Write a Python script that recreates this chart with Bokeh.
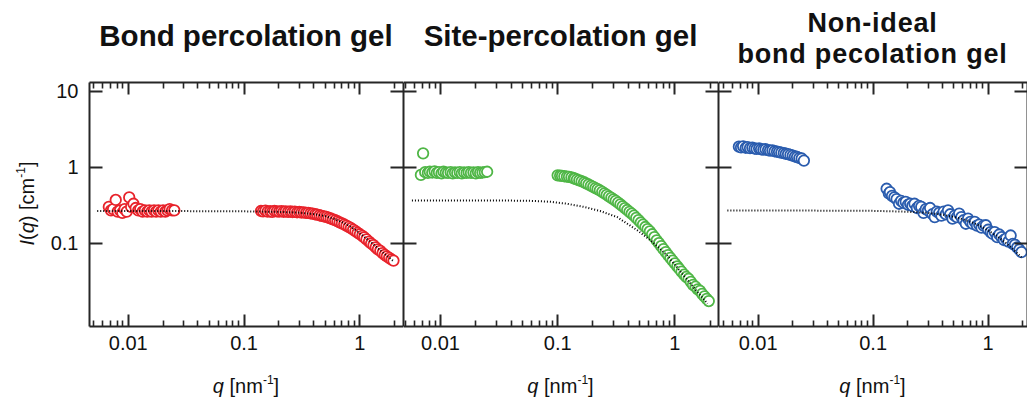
from bokeh.plotting import figure
from bokeh.models import Range1d, FixedTicker, LogAxis, CustomJSTickFormatter, Div
from bokeh.layouts import row, column
from bokeh.embed import file_html
from bokeh.resources import INLINE

# ---------------- data ----------------
q_low = [0.0068, 0.0071, 0.0074, 0.0078, 0.0081, 0.0085, 0.0089, 0.0093, 0.0097, 0.0102,
         0.0106, 0.0111, 0.0116, 0.0122, 0.0127, 0.0133, 0.0139, 0.0146, 0.0152, 0.0159,
         0.0167, 0.0174, 0.0182, 0.0191, 0.0200, 0.0209, 0.0218, 0.0228, 0.0239, 0.0250]

q_high = [0.140, 0.146, 0.153, 0.160, 0.168, 0.175, 0.183, 0.192, 0.201, 0.210,
          0.219, 0.229, 0.240, 0.251, 0.262, 0.274, 0.287, 0.300, 0.313, 0.328,
          0.343, 0.358, 0.375, 0.392, 0.410, 0.428, 0.448, 0.468, 0.490, 0.512,
          0.535, 0.560, 0.585, 0.612, 0.640, 0.669, 0.700, 0.732, 0.765, 0.800,
          0.837, 0.875, 0.915, 0.956, 1.00, 1.05, 1.09, 1.14, 1.20, 1.25,
          1.31, 1.37, 1.43, 1.50, 1.57, 1.64, 1.71, 1.79, 1.87, 1.95]

q_high_green = [0.100, 0.105, 0.109, 0.114, 0.120, 0.125, 0.131, 0.137] + q_high
q_high_blue = [0.131, 0.137] + q_high

# Bond percolation gel (red)
bond_low = [0.30, 0.27, 0.28, 0.37, 0.26, 0.27, 0.25, 0.28, 0.26, 0.40,
            0.30, 0.33, 0.29, 0.27, 0.28, 0.26, 0.27, 0.26, 0.27, 0.26,
            0.27, 0.26, 0.27, 0.26, 0.27, 0.26, 0.27, 0.28, 0.27, 0.27]
bond_high = [0.265, 0.262, 0.268, 0.260, 0.263, 0.258, 0.265, 0.262, 0.260, 0.264,
             0.259, 0.262, 0.258, 0.261, 0.257, 0.259, 0.255, 0.257, 0.253, 0.254,
             0.250, 0.250, 0.246, 0.244, 0.240, 0.237, 0.233, 0.229, 0.225, 0.221,
             0.216, 0.211, 0.206, 0.200, 0.194, 0.188, 0.182, 0.176, 0.170, 0.164,
             0.158, 0.151, 0.144, 0.137, 0.131, 0.125, 0.119, 0.112, 0.105, 0.099,
             0.094, 0.088, 0.083, 0.079, 0.074, 0.070, 0.067, 0.064, 0.061, 0.059]
bond_fit_q = [0.0054, 0.01, 0.03, 0.1, 0.2, 0.3, 0.4, 0.5, 0.6, 0.7, 0.8, 0.9, 1.0,
              1.2, 1.4, 1.6, 1.8, 1.95]
bond_fit = [0.264, 0.264, 0.264, 0.262, 0.258, 0.252, 0.241, 0.227, 0.208, 0.189, 0.170,
            0.152, 0.134, 0.108, 0.088, 0.074, 0.064, 0.058]

# Site-percolation gel (green)
site_low = [0.79, 1.52, 0.86, 0.84, 0.87, 0.85, 0.88, 0.84, 0.86, 0.83,
            0.87, 0.85, 0.84, 0.86, 0.83, 0.85, 0.84, 0.86, 0.83, 0.85,
            0.84, 0.86, 0.84, 0.85, 0.83, 0.86, 0.84, 0.85, 0.86, 0.87]
site_high = [0.780, 0.772, 0.766, 0.759, 0.751, 0.745, 0.733, 0.714,
             0.705, 0.688, 0.669, 0.652, 0.633, 0.613, 0.591, 0.569, 0.549, 0.530,
             0.513, 0.495, 0.473, 0.452, 0.433, 0.413, 0.394, 0.376, 0.360, 0.342,
             0.323, 0.306, 0.289, 0.273, 0.258, 0.244, 0.230, 0.215, 0.201, 0.187,
             0.175, 0.163, 0.153, 0.143, 0.131, 0.120, 0.109, 0.0998, 0.0912, 0.0834,
             0.0761, 0.0697, 0.0640, 0.0589, 0.0542, 0.0494, 0.0460, 0.0423, 0.0385, 0.0360,
             0.0340, 0.0309, 0.0282, 0.0267, 0.0247, 0.0236, 0.0215, 0.0199, 0.0185, 0.0173]
site_fit_q = [0.0057, 0.03, 0.06, 0.087, 0.12, 0.167, 0.23, 0.322, 0.4, 0.48, 0.62,
              0.86, 1.2, 1.5, 1.9]
site_fit = [0.365, 0.365, 0.36, 0.35, 0.33, 0.30, 0.265, 0.22, 0.177, 0.147, 0.109,
            0.069, 0.037, 0.0245, 0.016]

# Non-ideal bond percolation gel (blue)
nonideal_low = [1.86, 1.82, 1.88, 1.80, 1.84, 1.78, 1.80, 1.76, 1.74, 1.76,
                1.72, 1.70, 1.72, 1.68, 1.65, 1.66, 1.62, 1.60, 1.58, 1.55,
                1.53, 1.50, 1.48, 1.45, 1.42, 1.38, 1.36, 1.32, 1.30, 1.22]
nonideal_high = [0.52, 0.45,
                 0.47, 0.42, 0.40, 0.38, 0.33, 0.36, 0.34, 0.35, 0.32, 0.33,
                 0.31, 0.33, 0.29, 0.31, 0.30, 0.25, 0.28, 0.27, 0.29, 0.24,
                 0.22, 0.26, 0.25, 0.23, 0.26, 0.24, 0.27, 0.24, 0.21, 0.23,
                 0.22, 0.245, 0.22, 0.20, 0.18, 0.21, 0.19, 0.18, 0.19, 0.17,
                 0.175, 0.16, 0.17, 0.172, 0.15, 0.14, 0.133, 0.14, 0.12, 0.13,
                 0.12, 0.11, 0.115, 0.105, 0.126, 0.098, 0.095, 0.088, 0.082, 0.076]
nonideal_fit_q = [0.0054, 0.03, 0.1, 0.2, 0.3, 0.4, 0.5, 0.6, 0.7, 0.8, 0.9, 1.0,
                  1.2, 1.4, 1.6, 1.8, 1.95]
nonideal_fit = [0.268, 0.268, 0.266, 0.259, 0.250, 0.237, 0.222, 0.207, 0.191, 0.176,
                0.161, 0.147, 0.123, 0.103, 0.087, 0.073, 0.065]

titles = [["Bond percolation gel"], ["Site-percolation gel"],
          ["Non-ideal", "bond pecolation gel"]]
colors = ["#e8232b", "#4fb646", "#2a5cae"]

x_ticks = [0.01, 0.1, 1]
x_tick_labels = ["0.01", "0.1", "1"]
x_minor_ticks = [0.005, 0.006, 0.007, 0.008, 0.009, 0.02, 0.03, 0.04, 0.05, 0.06,
                 0.07, 0.08, 0.09, 0.2, 0.3, 0.4, 0.5, 0.6, 0.7, 0.8, 0.9, 2]
y_ticks = [0.1, 1, 10]
y_tick_labels = ["0.1", "1", "10"]

x_label_html = '<i>q</i>&nbsp;[nm<span style="font-size:12px;position:relative;top:-9px;">-1</span>]'
y_label_html = '<i>I</i>(<i>q</i>)&nbsp;[cm<span style="font-size:12px;position:relative;top:-9px;">-1</span>]'

# ---------------- layout / style ----------------
FONT = "Liberation Sans"
FRAME = "#262626"
TXT = "#111111"
TITLE_H = 72        # title strip height (canvas y 0..72)
FIG_H = 290         # figure: top border 10, frame 244, bottom border 36
XLAB_H = 398 - TITLE_H - FIG_H
YLAB_W = 40
Y_RANGE = (0.008, 13.0)
panel_specs = [  # (figure width, left border, x range)
    (363, 49, (0.00463, 2.38)),
    (315, 0, (0.00483, 2.36)),
    (309, 0, (0.00452, 2.20)),
]
# title text settings: (font px, baselines, letter spacing)
title_style = [(29.5, [46], 0), (29.5, [46], 0), (27, [33, 63.5], 0.8)]


def style_axis(ax, tick_in, minor_in, show):
    ax.axis_line_color = FRAME
    ax.axis_line_width = 2
    ax.major_tick_line_color = FRAME
    ax.major_tick_line_width = 2
    ax.minor_tick_line_color = FRAME
    ax.minor_tick_line_width = 1.6
    ax.major_tick_in = tick_in
    ax.major_tick_out = 0
    ax.minor_tick_in = minor_in
    ax.minor_tick_out = 0
    ax.major_label_text_font = FONT
    ax.major_label_text_font_size = "20px"
    ax.major_label_text_color = TXT
    ax.axis_label = None
    if not show:
        ax.formatter = CustomJSTickFormatter(code="return ''")
        ax.major_label_standoff = 0
        ax.major_label_text_font_size = "0px"


def span(html, left, top, width, size, line_h, weight="normal", extra=""):
    return (f'<span style="position:absolute;left:{left}px;top:{top}px;width:{width}px;'
            f"font-family:'{FONT}';font-size:{size}px;line-height:{line_h}px;"
            f'font-weight:{weight};text-align:center;color:{TXT};white-space:nowrap;{extra}">'
            f'{html}</span>')


def baseline_top(baseline, size, line_h):
    # top of a line box whose text baseline sits at `baseline` (Liberation Sans metrics)
    return round(baseline - ((line_h - 1.117 * size) / 2 + 0.905 * size), 1)


def box(inner, w, h):
    return Div(text=f'<div style="position:relative;width:{w}px;height:{h}px;">{inner}</div>',
               width=w, height=h, margin=0)


panels_data = [
    (q_low, bond_low, q_high, bond_high, bond_fit_q, bond_fit),
    (q_low, site_low, q_high_green, site_high, site_fit_q, site_fit),
    (q_low, nonideal_low, q_high_blue, nonideal_high, nonideal_fit_q, nonideal_fit),
]

figs, title_divs, xlab_divs = [], [], []
for i, ((w, left, xr), data, col, ttl, tst) in enumerate(
        zip(panel_specs, panels_data, colors, titles, title_style)):
    ql, il, qh, ih, qf, fi = data
    p = figure(width=w, height=FIG_H, x_axis_type="log", y_axis_type="log",
               x_range=Range1d(*xr), y_range=Range1d(*Y_RANGE),
               output_backend="svg", toolbar_location=None, title=None,
               min_border=0, min_border_left=left, min_border_right=0,
               min_border_top=10, min_border_bottom=36, margin=0)
    p.outline_line_color = None
    p.background_fill_color = "white"
    p.border_fill_color = "white"
    p.xgrid.visible = False
    p.ygrid.visible = False

    xt = FixedTicker(ticks=x_ticks, minor_ticks=x_minor_ticks)
    yt = FixedTicker(ticks=y_ticks, minor_ticks=[])

    p.xaxis.ticker = xt
    p.yaxis.ticker = yt
    style_axis(p.xaxis[0], 12, 6, True)
    p.xaxis.major_label_overrides = dict(zip(x_ticks, x_tick_labels))
    p.xaxis.major_label_standoff = 9
    style_axis(p.yaxis[0], 13, 0, i == 0)
    if i == 0:
        p.yaxis.major_label_overrides = dict(zip(y_ticks, y_tick_labels))
        p.yaxis.major_label_standoff = 11

    top_ax = LogAxis(ticker=xt)
    style_axis(top_ax, 12, 6, False)
    p.add_layout(top_ax, "above")
    right_ax = LogAxis(ticker=yt)
    style_axis(right_ax, 13, 0, False)
    p.add_layout(right_ax, "right")

    p.scatter(ql, il, marker="circle", size=10.5, fill_color="white",
              line_color=col, line_width=1.8)
    p.scatter(qh, ih, marker="circle", size=10.5, fill_color="white",
              line_color=col, line_width=1.8)
    p.line(qf, fi, line_color="black", line_width=2, line_dash="1 2")
    figs.append(p)

    # title strip above this panel (centred over the frame), one span per line
    full_w = w + (YLAB_W if i == 0 else 0)
    off = left + (YLAB_W if i == 0 else 0)
    fw = w - left
    tpx, bases, ls = tst
    inner = "".join(span(t, off, baseline_top(b, tpx, tpx), fw, tpx, tpx, weight="bold",
                         extra=f"letter-spacing:{ls}px;")
                    for t, b in zip(ttl, bases))
    title_divs.append(box(inner, full_w, TITLE_H))

    # x-axis label strip below
    xl_base = 392.5 - (TITLE_H + FIG_H)
    xlab_divs.append(box(span(x_label_html, off, baseline_top(xl_base, 20, 20), fw, 20, 20),
                         full_w, XLAB_H))

# y-axis label (rotated), centred on the frame of the first panel
cy = 202 - TITLE_H
ylab = box(span(y_label_html, 28 - 100, cy - 10, 200, 20, 20,
                extra="transform:rotate(-90deg);transform-origin:50% 50%;"),
           YLAB_W, FIG_H)

layout = column(row(*title_divs, spacing=0),
                row(ylab, *figs, spacing=0),
                row(*xlab_divs, spacing=0), spacing=0)
open("out.html", "w").write(file_html(layout, INLINE))
